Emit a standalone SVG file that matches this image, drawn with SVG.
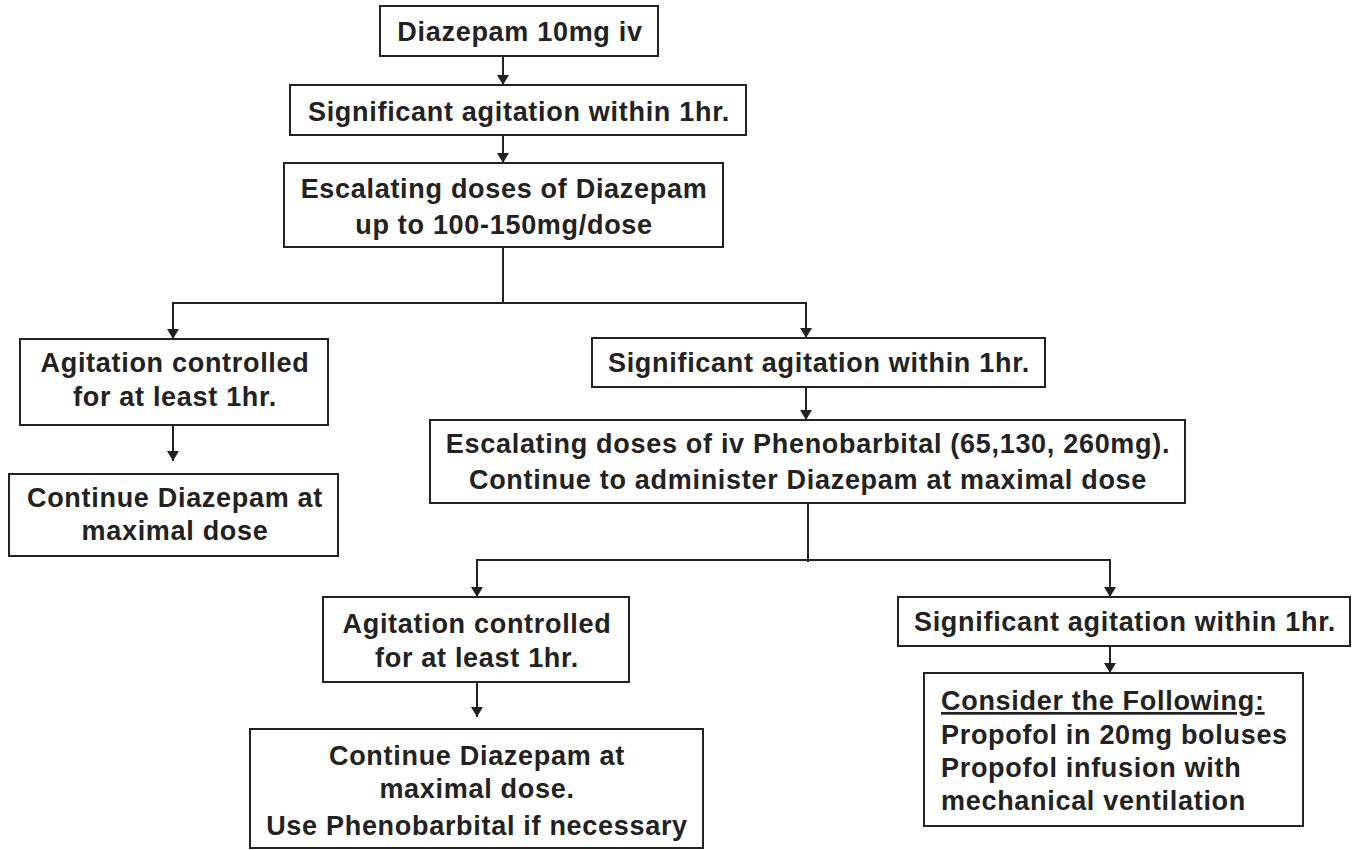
<svg xmlns="http://www.w3.org/2000/svg" width="1359" height="850" viewBox="0 0 1359 850">
<style>
.box{fill:#fff;stroke:#222;stroke-width:2}
.t{font-family:"Liberation Sans",Arial,sans-serif;font-weight:bold;font-size:27px;letter-spacing:0.7px;fill:#222;text-anchor:middle}
.l{text-anchor:start}
.c{fill:none;stroke:#222;stroke-width:2}
</style>
<defs>
<marker id="ah" viewBox="0 0 10 12" refX="10" refY="6" markerWidth="10" markerHeight="12" markerUnits="userSpaceOnUse" orient="auto">
<path d="M0,0 L10,6 L0,12 Z" fill="#222"/>
</marker>
</defs>
<rect width="1359" height="850" fill="#fff"/>
<g id="connectors">
<line class="c" x1="503" y1="56" x2="503" y2="85" marker-end="url(#ah)"/>
<line class="c" x1="503" y1="135" x2="503" y2="163" marker-end="url(#ah)"/>
<line class="c" x1="503" y1="247" x2="503" y2="303"/>
<line class="c" x1="172" y1="303" x2="807" y2="303"/>
<line class="c" x1="173" y1="303" x2="173" y2="339" marker-end="url(#ah)"/>
<line class="c" x1="806" y1="303" x2="806" y2="338" marker-end="url(#ah)"/>
<line class="c" x1="173" y1="425" x2="173" y2="461" marker-end="url(#ah)"/>
<line class="c" x1="806" y1="387" x2="806" y2="420" marker-end="url(#ah)"/>
<line class="c" x1="808" y1="503" x2="808" y2="562"/>
<line class="c" x1="476" y1="560" x2="1111" y2="560"/>
<line class="c" x1="477" y1="560" x2="477" y2="597" marker-end="url(#ah)"/>
<line class="c" x1="1110" y1="560" x2="1110" y2="597" marker-end="url(#ah)"/>
<line class="c" x1="477" y1="682" x2="477" y2="717" marker-end="url(#ah)"/>
<line class="c" x1="1110" y1="646" x2="1110" y2="673" marker-end="url(#ah)"/>
</g>
<g id="n1"><rect class="box" x="380" y="6" width="278" height="50"/><text class="t" x="520" y="41">Diazepam 10mg iv</text></g>
<g id="n2"><rect class="box" x="290" y="85" width="456" height="50"/><text class="t" x="519" y="121">Significant agitation within 1hr.</text></g>
<g id="n3"><rect class="box" x="284" y="163" width="439" height="84"/><text class="t" x="504" y="198">Escalating doses of Diazepam</text><text class="t" x="504" y="234">up to 100-150mg/dose</text></g>
<g id="n4"><rect class="box" x="20" y="339" width="308" height="86"/><text class="t" x="175" y="372">Agitation controlled</text><text class="t" x="175" y="406">for at least 1hr.</text></g>
<g id="n5"><rect class="box" x="9" y="474" width="329" height="82"/><text class="t" x="175" y="507">Continue Diazepam at</text><text class="t" x="175" y="540">maximal dose</text></g>
<g id="n6"><rect class="box" x="592" y="338" width="453" height="49"/><text class="t" x="819" y="372">Significant agitation within 1hr.</text></g>
<g id="n7"><rect class="box" x="430" y="420" width="755" height="83"/><text class="t" x="808" y="453">Escalating doses of iv Phenobarbital (65,130, 260mg).</text><text class="t" x="808" y="489">Continue to administer Diazepam at maximal dose</text></g>
<g id="n8"><rect class="box" x="323" y="597" width="306" height="85"/><text class="t" x="477" y="633">Agitation controlled</text><text class="t" x="477" y="667">for at least 1hr.</text></g>
<g id="n9"><rect class="box" x="250" y="729" width="453" height="119"/><text class="t" x="477" y="765">Continue Diazepam at</text><text class="t" x="477" y="798">maximal dose.</text><text class="t" x="477" y="835">Use Phenobarbital if necessary</text></g>
<g id="n10"><rect class="box" x="898" y="597" width="452" height="49"/><text class="t" x="1125" y="631">Significant agitation within 1hr.</text></g>
<g id="n11"><rect class="box" x="924" y="673" width="379" height="153"/><text class="t l" x="941" y="710" text-decoration="underline">Consider the Following:</text><text class="t l" x="941" y="744">Propofol in 20mg boluses</text><text class="t l" x="941" y="777">Propofol infusion with</text><text class="t l" x="941" y="810">mechanical ventilation</text></g>
</svg>
